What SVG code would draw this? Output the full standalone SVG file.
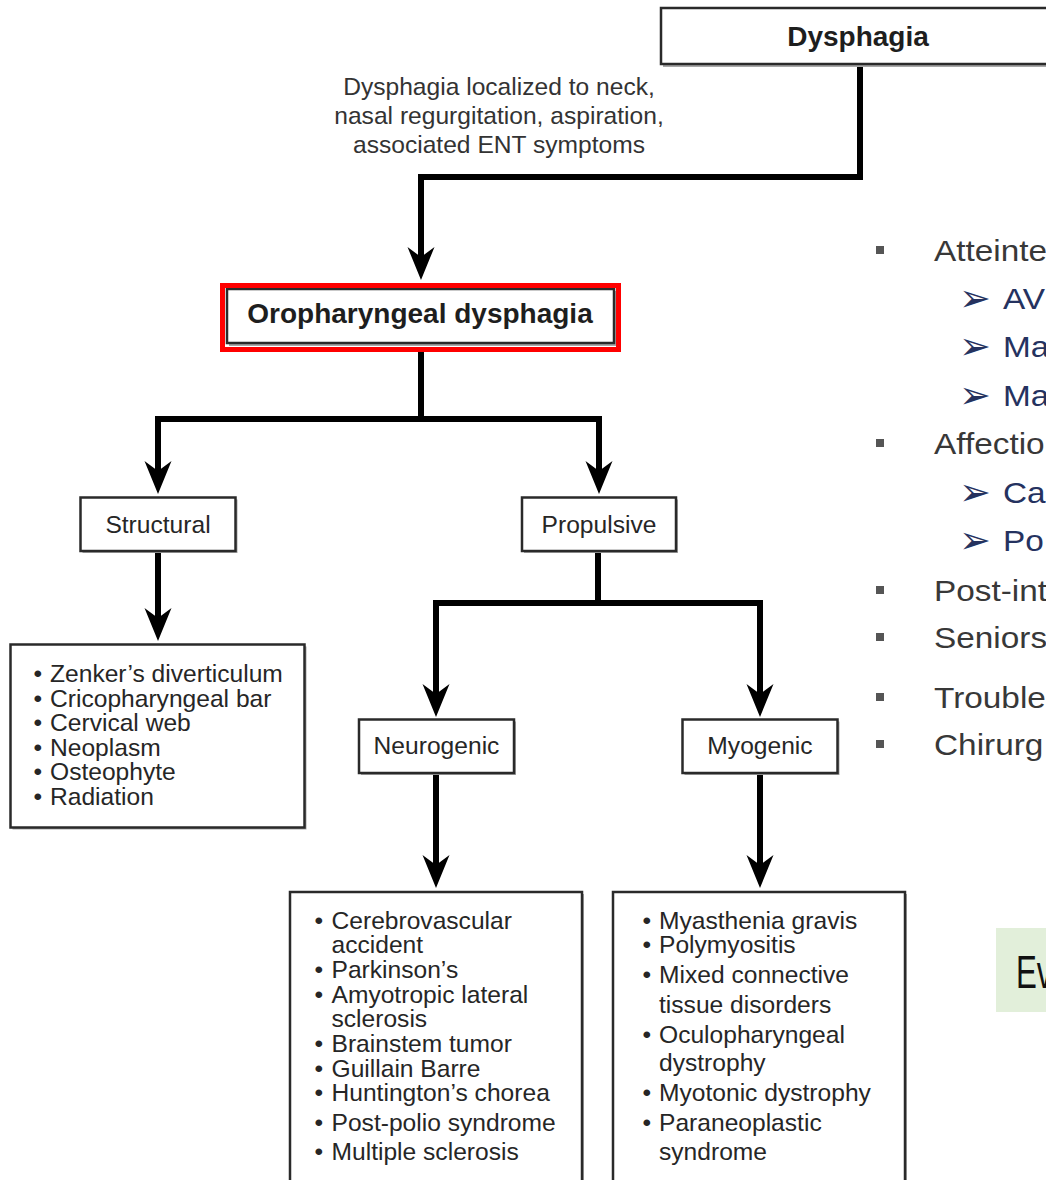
<svg xmlns="http://www.w3.org/2000/svg" width="1046" height="1180" viewBox="0 0 1046 1180">
<defs>
<marker id="ah" markerUnits="userSpaceOnUse" markerWidth="40" markerHeight="30" viewBox="0 -15 34 30" refX="11" refY="0" orient="auto">
<path d="M0,-13.5 L33,0 L0,13.5 L10,0 Z" fill="#000"/>
</marker>
<style>
.box{fill:#fff;stroke:#2a2a2a;stroke-width:2.5}
.sh{fill:#a8a8a8}
.t{font-family:"Liberation Sans",Arial,sans-serif;font-size:24.6px;fill:#262626}
.c{text-anchor:middle}
.b{font-weight:bold;font-size:28px;fill:#1e1e1e}
.lbl{font-family:"Liberation Sans",Arial,sans-serif;font-size:24.6px;fill:#333;text-anchor:middle}
.con{fill:none;stroke:#000;stroke-width:6;stroke-linejoin:miter}
.arr{marker-end:url(#ah)}
.side{font-family:"Liberation Sans",Arial,sans-serif;font-size:29px;fill:#383838}
.sub{fill:#25325f}
.sq{fill:#555}
.dart{font-family:"DejaVu Sans",sans-serif;font-size:38px;fill:#25325f}
</style>
</defs>
<rect width="1046" height="1180" fill="#fff"/>

<g id="connectors">
<path class="con arr" d="M860,64 V177 H421 V258"/>
<path class="con arr" d="M421,352 V419 H158 V472"/>
<path class="con arr" d="M421,419 H599 V472"/>
<path class="con arr" d="M158,551 V619"/>
<path class="con arr" d="M598,551 V603 H436 V695"/>
<path class="con arr" d="M598,603 H760 V695"/>
<path class="con arr" d="M436,773 V866"/>
<path class="con arr" d="M760,773 V866"/>
<text class="lbl"><tspan x="499" y="95">Dysphagia localized to neck,</tspan><tspan x="499" y="124">nasal regurgitation, aspiration,</tspan><tspan x="499" y="153">associated ENT symptoms</tspan></text>
</g>

<g id="n-dysphagia">
<rect class="sh" x="663" y="10" width="400" height="57"/>
<rect class="box" x="661" y="8" width="400" height="56"/>
<text class="t c b" x="858" y="46">Dysphagia</text>
</g>

<g id="n-oropharyngeal">
<rect class="sh" x="229" y="291" width="387" height="55"/>
<rect class="box" x="227" y="289" width="387" height="54" stroke="#666"/>
<rect x="222.5" y="285.5" width="396" height="64" fill="none" stroke="#ff0000" stroke-width="5"/>
<text class="t c b" x="420" y="323">Oropharyngeal dysphagia</text>
</g>

<g id="n-structural">
<rect class="sh" x="82.5" y="499.5" width="155" height="53.5"/>
<rect class="box" x="80.5" y="497.5" width="155" height="53.5"/>
<text class="t c" x="158" y="533">Structural</text>
</g>

<g id="n-propulsive">
<rect class="sh" x="524" y="499.5" width="154" height="53.5"/>
<rect class="box" x="522" y="497.5" width="154" height="53.5"/>
<text class="t c" x="599" y="533">Propulsive</text>
</g>

<g id="n-structural-causes">
<rect class="sh" x="12.5" y="646.5" width="294" height="183"/>
<rect class="box" x="10.5" y="644.5" width="294" height="183"/>
<text class="t" x="33.5" y="682">•</text><text class="t" x="50" y="682">Zenker’s diverticulum</text>
<text class="t" x="33.5" y="706.5">•</text><text class="t" x="50" y="706.5">Cricopharyngeal bar</text>
<text class="t" x="33.5" y="731">•</text><text class="t" x="50" y="731">Cervical web</text>
<text class="t" x="33.5" y="755.5">•</text><text class="t" x="50" y="755.5">Neoplasm</text>
<text class="t" x="33.5" y="780">•</text><text class="t" x="50" y="780">Osteophyte</text>
<text class="t" x="33.5" y="804.5">•</text><text class="t" x="50" y="804.5">Radiation</text>
</g>

<g id="n-neurogenic">
<rect class="sh" x="361" y="721.5" width="155" height="53.5"/>
<rect class="box" x="359" y="719.5" width="155" height="53.5"/>
<text class="t c" x="436.5" y="754">Neurogenic</text>
</g>

<g id="n-myogenic">
<rect class="sh" x="684.5" y="721.5" width="155" height="53.5"/>
<rect class="box" x="682.5" y="719.5" width="155" height="53.5"/>
<text class="t c" x="760" y="754">Myogenic</text>
</g>

<g id="n-neurogenic-causes">
<rect class="sh" x="292" y="894" width="292" height="300"/>
<rect class="box" x="290" y="892" width="292" height="300"/>
<text class="t" x="314.5" y="929">•</text><text class="t" x="331.5" y="929">Cerebrovascular</text>
<text class="t" x="331.5" y="953">accident</text>
<text class="t" x="314.5" y="977.5">•</text><text class="t" x="331.5" y="977.5">Parkinson’s</text>
<text class="t" x="314.5" y="1002.5">•</text><text class="t" x="331.5" y="1002.5">Amyotropic lateral</text>
<text class="t" x="331.5" y="1027">sclerosis</text>
<text class="t" x="314.5" y="1051.5">•</text><text class="t" x="331.5" y="1051.5">Brainstem tumor</text>
<text class="t" x="314.5" y="1076.5">•</text><text class="t" x="331.5" y="1076.5">Guillain Barre</text>
<text class="t" x="314.5" y="1101">•</text><text class="t" x="331.5" y="1101">Huntington’s chorea</text>
<text class="t" x="314.5" y="1130.5">•</text><text class="t" x="331.5" y="1130.5">Post-polio syndrome</text>
<text class="t" x="314.5" y="1160">•</text><text class="t" x="331.5" y="1160">Multiple sclerosis</text>
</g>

<g id="n-myogenic-causes">
<rect class="sh" x="615" y="894" width="292" height="300"/>
<rect class="box" x="613" y="892" width="292" height="300"/>
<text class="t" x="642.5" y="929">•</text><text class="t" x="659" y="929">Myasthenia gravis</text>
<text class="t" x="642.5" y="953">•</text><text class="t" x="659" y="953">Polymyositis</text>
<text class="t" x="642.5" y="983">•</text><text class="t" x="659" y="983">Mixed connective</text>
<text class="t" x="659" y="1012.5">tissue disorders</text>
<text class="t" x="642.5" y="1042.5">•</text><text class="t" x="659" y="1042.5">Oculopharyngeal</text>
<text class="t" x="659" y="1070.5">dystrophy</text>
<text class="t" x="642.5" y="1101">•</text><text class="t" x="659" y="1101">Myotonic dystrophy</text>
<text class="t" x="642.5" y="1130.5">•</text><text class="t" x="659" y="1130.5">Paraneoplastic</text>
<text class="t" x="659" y="1160">syndrome</text>
</g>

<g id="side-list">
<rect class="sq" x="876" y="246" width="8" height="8"/>
<rect class="sq" x="876" y="439" width="8" height="8"/>
<rect class="sq" x="876" y="586" width="8" height="8"/>
<rect class="sq" x="876" y="633" width="8" height="8"/>
<rect class="sq" x="876" y="693" width="8" height="8"/>
<rect class="sq" x="876" y="740" width="8" height="8"/>
<text class="dart" x="959" y="311">➢</text>
<text class="dart" x="959" y="359">➢</text>
<text class="dart" x="959" y="408">➢</text>
<text class="dart" x="959" y="505">➢</text>
<text class="dart" x="959" y="553">➢</text>
<g transform="matrix(1.15,0,0,1,0,0)">
<text class="side" x="812.2" y="261">Atteinte</text>
<text class="side sub" x="872.2" y="309">AV</text>
<text class="side sub" x="872.2" y="357">Ma</text>
<text class="side sub" x="872.2" y="406">Ma</text>
<text class="side" x="812.2" y="454">Affectio</text>
<text class="side sub" x="872.2" y="503">Ca</text>
<text class="side sub" x="872.2" y="551">Po</text>
<text class="side" x="812.2" y="601">Post-int</text>
<text class="side" x="812.2" y="648">Seniors</text>
<text class="side" x="812.2" y="708">Trouble</text>
<text class="side" x="812.2" y="755">Chirurg</text>
</g>
</g>

<g id="n-ev">
<rect x="996" y="928" width="60" height="84" fill="#e2efda"/>
<text transform="translate(1016,988) scale(0.68,1)" style="font-family:'Liberation Sans',Arial,sans-serif;font-size:46px;fill:#111">Ev</text>
</g>
</svg>
